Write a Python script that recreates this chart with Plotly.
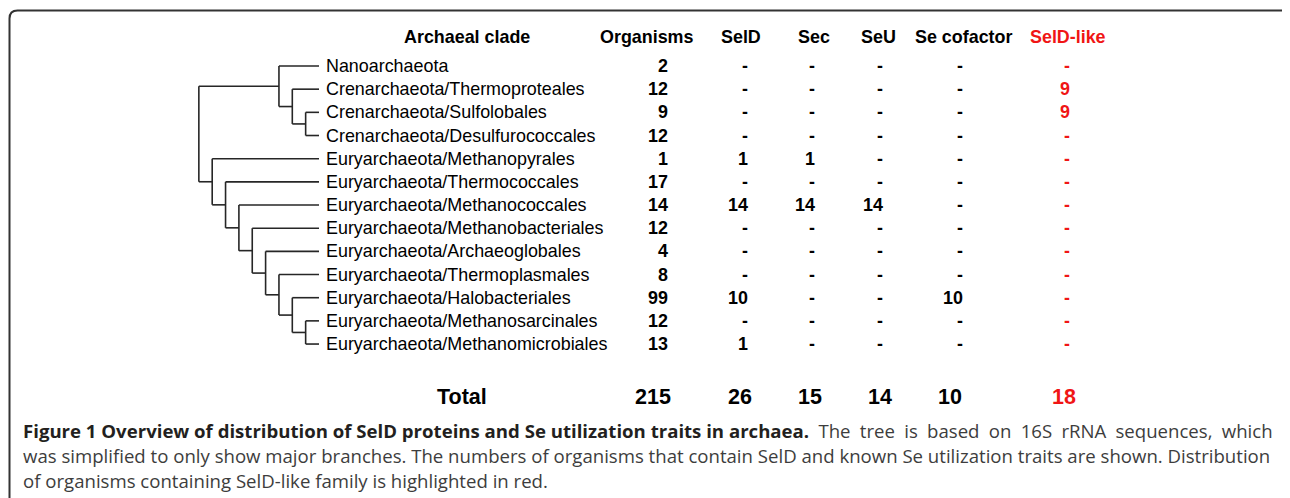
import plotly.graph_objects as go

# ---------------- data ----------------
clades = [
    "Nanoarchaeota",
    "Crenarchaeota/Thermoproteales",
    "Crenarchaeota/Sulfolobales",
    "Crenarchaeota/Desulfurococcales",
    "Euryarchaeota/Methanopyrales",
    "Euryarchaeota/Thermococcales",
    "Euryarchaeota/Methanococcales",
    "Euryarchaeota/Methanobacteriales",
    "Euryarchaeota/Archaeoglobales",
    "Euryarchaeota/Thermoplasmales",
    "Euryarchaeota/Halobacteriales",
    "Euryarchaeota/Methanosarcinales",
    "Euryarchaeota/Methanomicrobiales",
]
organisms   = ["2", "12", "9", "12", "1", "17", "14", "12", "4", "8", "99", "12", "13"]
seld        = ["-", "-", "-", "-", "1", "-", "14", "-", "-", "-", "10", "-", "1"]
sec         = ["-", "-", "-", "-", "1", "-", "14", "-", "-", "-", "-", "-", "-"]
seu         = ["-", "-", "-", "-", "-", "-", "14", "-", "-", "-", "-", "-", "-"]
se_cofactor = ["-", "-", "-", "-", "-", "-", "-", "-", "-", "-", "10", "-", "-"]
seld_like   = ["-", "9", "9", "-", "-", "-", "-", "-", "-", "-", "-", "-", "-"]

headers = ["Archaeal clade", "Organisms", "SelD", "Sec", "SeU", "Se cofactor", "SelD-like"]
totals = ["Total", "215", "26", "15", "14", "10", "18"]

# tree topology (leaf = row index of clade)
tree = ((0, (1, (2, 3))), (4, (5, (6, (7, (8, (9, (10, (11, 12)))))))))

caption_bold = "Figure 1 Overview of distribution of SelD proteins and Se utilization traits in archaea."
caption_lines = [
    "The tree is based on 16S rRNA sequences, which",
    "was simplified to only show major branches. The numbers of organisms that contain SelD and known Se utilization traits are shown. Distribution",
    "of organisms containing SelD-like family is highlighted in red.",
]

# ---------------- layout constants ----------------
OFF = 8                      # page body margin
W, H = 1290 - OFF, 498 - OFF
ROW0_PX, ROW_H = 66.0, 23.17
LEAF_X, STEP = 319.0, 13.35
LABEL_X = 326
HEADER_ROW = -1.25
TOTAL_ROW = 14.3
COL_RIGHT = [668, 748, 815, 883, 963, 1070]
HEAD_CX = [467, 647, 741, 814, 878, 963, 1068]
TOTAL_CX = [462, 653, 740, 810, 880, 950, 1064]
RED = "#f01515"
FONT = "Liberation Sans, Arial, sans-serif"
CAP_FONT = "Open Sans, sans-serif"
TXT = 17.9

# ---------------- tree layout ----------------
xs, ys = [], []


def lay(node):
    if isinstance(node, int):
        return 0, LEAF_X, float(node)
    res = [lay(c) for c in node]
    h = 1 + max(r[0] for r in res)
    x = LEAF_X - STEP * h
    y = (res[0][2] + res[-1][2]) / 2
    xs.extend([x, x, None])
    ys.extend([res[0][2], res[-1][2], None])
    for _, cx, cy in res:
        xs.extend([x, cx, None])
        ys.extend([cy, cy, None])
    return h, x, y


lay(tree)

fig = go.Figure()
fig.add_trace(go.Scatter(x=xs, y=ys, mode="lines",
                         line=dict(color="#262626", width=1.6),
                         hoverinfo="skip", showlegend=False))

ann = []


def add(x, y, text, size, color="#000", anchor="center", bold=False, family=FONT):
    ann.append(dict(x=x, y=y, xref="x", yref="y", text=("<b>%s</b>" % text) if bold else text,
                    showarrow=False, xanchor=anchor, yanchor="middle",
                    font=dict(family=family, size=size, color=color),
                    borderpad=0, borderwidth=0))


# headers
for i, h in enumerate(headers):
    add(HEAD_CX[i], HEADER_ROW, h, TXT, RED if h == "SelD-like" else "#000", bold=True)

# rows
cols = [organisms, seld, sec, seu, se_cofactor, seld_like]
for r, name in enumerate(clades):
    add(LABEL_X, r, name, TXT, "#000", anchor="left")
    for c, col in enumerate(cols):
        add(COL_RIGHT[c], r, col[r], TXT, RED if c == 5 else "#000", anchor="right", bold=True)

# totals
for i, t in enumerate(totals):
    add(TOTAL_CX[i], TOTAL_ROW, t, 21.5, RED if i == 6 else "#000", bold=True)


def paper_y(px):
    return 1 - (px - OFF) / H


# caption (first line justified: wider word spaces)
cap_y = [430, 455, 480]
cap_texts = [
    "<b><span style='color:#231f20'>%s</span></b>\u2002%s" % (
        caption_bold, caption_lines[0].replace(" ", "\u2002")),
    caption_lines[1],
    caption_lines[2],
]
for t, py in zip(cap_texts, cap_y):
    ann.append(dict(x=22, y=paper_y(py), xref="x", yref="paper", text=t, showarrow=False,
                    xanchor="left", yanchor="middle", borderpad=0,
                    font=dict(family=CAP_FONT, size=18.6, color="#3d3d3d")))

# rounded border (open at right/bottom, as cropped)
r = 8
ytop = paper_y(10.5)
path = ("M 9.5,-0.05 L 9.5,%f Q 9.5,%f %f,%f L %f,%f Q %f,%f %f,%f" % (
    ytop - r / H, ytop, 9.5 + r, ytop, 1285, ytop, 1290, ytop, 1293, ytop - 4 / H))
fig.add_shape(type="path", path=path, xref="x", yref="paper",
              line=dict(color="#333333", width=2))

fig.update_layout(
    width=W, height=H,
    margin=dict(l=0, r=0, t=0, b=0),
    paper_bgcolor="white", plot_bgcolor="white",
    xaxis=dict(range=[OFF, OFF + W], visible=False, fixedrange=True),
    yaxis=dict(range=[(OFF + H - ROW0_PX) / ROW_H, (OFF - ROW0_PX) / ROW_H],
               visible=False, fixedrange=True),
    annotations=ann,
    showlegend=False,
)

fig.write_html("out.html", config={"displayModeBar": False})
